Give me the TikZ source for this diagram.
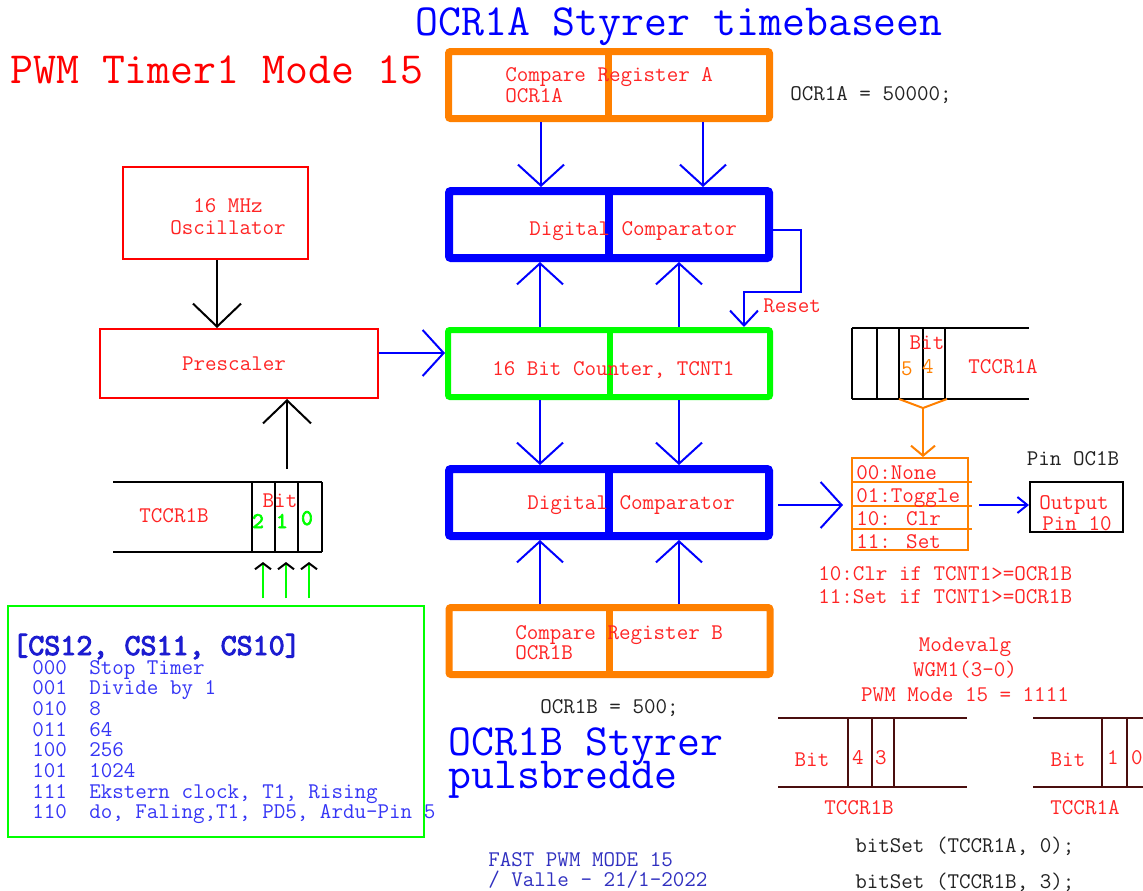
\documentclass[tikz,border=0pt]{standalone}
\usepackage{fontspec}
\newfontfamily\fbmono{lmmono10-regular.otf}[FakeBold=3]
\usetikzlibrary{arrows.meta}
\definecolor{myred}{HTML}{FF2424}
\definecolor{myblue}{HTML}{0000FF}
\definecolor{myorange}{HTML}{FF8000}
\definecolor{mygreen}{HTML}{00FF00}
\definecolor{listblue}{HTML}{3535F5}
\definecolor{csblue}{HTML}{1C1CD0}
\definecolor{footblue}{HTML}{3030C0}
\definecolor{regbrown}{HTML}{4A0E0E}
\definecolor{txtblack}{HTML}{222222}
\newcommand\fsS{\ttfamily\fontsize{16.8pt}{19pt}\selectfont}
\newcommand\fsL{\ttfamily\fontsize{33.4pt}{38pt}\selectfont}
\newcommand\fsB{\fbmono\fontsize{22.9pt}{26pt}\selectfont}
\newcommand\fsD{\fbmono\fontsize{16.8pt}{19pt}\selectfont}
\begin{document}
\begin{tikzpicture}[x=0.75pt,y=-0.75pt,
  txt/.style={inner sep=0pt, font=\fsS, text=myred},
  big/.style={inner sep=0pt, font=\fsL},
  ocrbox/.style={draw=myorange, line width=5.25pt, rounded corners=1.5pt, inner sep=0pt, minimum width=240.75pt, minimum height=50.25pt},
  cmpbox/.style={draw=myblue, line width=6pt, rounded corners=1.5pt, inner sep=0pt, minimum width=240pt, minimum height=50.25pt},
  cntbox/.style={draw=mygreen, line width=4.5pt, rounded corners=1.5pt, inner sep=0pt, minimum width=241.5pt, minimum height=50.25pt},
  thinbox/.style={line width=1.5pt, inner sep=0pt},
  bl/.style={draw=myblue, line width=1.5pt, -{Straight Barb[length=15.75pt,width=34.5pt]}},
  blk/.style={draw=black, line width=1.5pt, -{Straight Barb[length=17.25pt,width=36pt]}},
  reg/.style={line width=1.5pt},
  breg/.style={draw=regbrown, line width=1.8pt},
]
\useasboundingbox (0,0) rectangle (1143,890);

% titles
\node[big, text=myblue, anchor=base west] (t1) at (415,35) {OCR1A Styrer timebaseen};
\node[big, text=red, anchor=base west] (t2) at (10,83) {PWM Timer1 Mode 15};

% central column boxes
\node[ocrbox] (ocrA) at (609,85) {};
\draw[myorange, line width=5.25pt] (608,0 |- ocrA.north) -- (608,0 |- ocrA.south);
\node[txt, anchor=base west] (ocrAt1) at (505,81) {Compare Register A};
\node[txt, anchor=base west] (ocrAt2) at (505,102) {OCR1A};
\node[txt, anchor=base west, text=txtblack] (ocrAv) at (790,100) {OCR1A = 50000;};

\node[cmpbox] (cmpA) at (609,224.5) {};
\draw[myblue, line width=6pt] (609,0 |- cmpA.north) -- (609,0 |- cmpA.south);
\node[txt, anchor=base west] (cmpAt) at (529,235) {Digital Comparator};

\node[cntbox] (cnt) at (609,363.5) {};
\draw[mygreen, line width=4.5pt] (610,330) -- (610,397);
\node[txt, anchor=base west] (cntt) at (492,375) {16 Bit Counter, TCNT1};

\node[cmpbox] (cmpB) at (609,502.5) {};
\draw[myblue, line width=6pt] (609,0 |- cmpB.north) -- (609,0 |- cmpB.south);
\node[txt, anchor=base west] (cmpBt) at (527,509) {Digital Comparator};

\node[ocrbox] (ocrB) at (609.5,641) {};
\draw[myorange, line width=5.25pt] (609,0 |- ocrB.north) -- (609,0 |- ocrB.south);
\node[txt, anchor=base west] (ocrBt1) at (515,639) {Compare Register B};
\node[txt, anchor=base west] (ocrBt2) at (515,659) {OCR1B};
\node[txt, anchor=base west, text=txtblack] (ocrBv) at (540,713) {OCR1B = 500;};

\node[big, text=myblue, anchor=base west] (s1) at (448,755) {OCR1B Styrer};
\node[big, text=myblue, anchor=base west] (s2) at (448,788) {pulsbredde};
\node[txt, text=footblue, anchor=base west] (f1) at (488,866) {FAST PWM MODE 15};
\node[txt, text=footblue, anchor=base west] (f2) at (488,886) {/ Valle - 21/1-2022};

% central arrows
\draw[bl] (541,0 |- ocrA.south) -- (541,0 |- cmpA.north);
\draw[bl] (703,0 |- ocrA.south) -- (703,0 |- cmpA.north);
\draw[bl] (540,0 |- cnt.north) -- (540,0 |- cmpA.south);
\draw[bl] (679,0 |- cnt.north) -- (679,0 |- cmpA.south);
\draw[bl] (540,0 |- cnt.south) -- (540,0 |- cmpB.north);
\draw[bl] (679,0 |- cnt.south) -- (679,0 |- cmpB.north);
\draw[bl] (540,0 |- ocrB.north) -- (540,0 |- cmpB.south);
\draw[bl] (679,0 |- ocrB.north) -- (679,0 |- cmpB.south);

% reset
\draw[draw=myblue, line width=1.5pt, -{Straight Barb[length=11.25pt,width=21pt]}]
  (cmpA.east |- 0,230) -- (801,230) -- (801,292) -- (744,292) -- (744,0 |- cnt.north);
\node[txt, anchor=base west] (reset) at (763,312) {Reset};

% left side
\node[draw=red, thinbox, minimum width=138.75pt, minimum height=69pt] (osc) at (215.5,213) {};
\node[txt, anchor=base] (osct1) at (228,212) {16 MHz};
\node[txt, anchor=base] (osct2) at (228,234) {Oscillator};
\node[draw=red, thinbox, minimum width=208.5pt, minimum height=51.75pt] (pre) at (239,363.5) {};
\node[txt, anchor=base] (pret) at (234,370) {Prescaler};
\draw[blk] (217,0 |- osc.south) -- (217,0 |- pre.north);
\draw[bl] (pre.east |- 0,353) -- (cnt.west |- 0,353);

% TCCR1B left register
\draw[reg] (113,482) -- (322,482);
\draw[reg] (113,552) -- (322,552);
\foreach \xx in {252,275,298,322} \draw[reg] (\xx,482) -- (\xx,552);
\node[txt, anchor=base] (tb1) at (174,522) {TCCR1B};
\node[txt, anchor=base] (tb1bit) at (280,507) {Bit};
\node[txt, anchor=base, text=mygreen, font=\fsD] (tb1d2) at (258,528) {2};
\node[txt, anchor=base, text=mygreen, font=\fsD] (tb1d1) at (282,528) {1};
\node[txt, anchor=base, text=mygreen, font=\fsD] (tb1d0) at (307,525) {0};
\coordinate (tbA) at (287,469);
\draw[blk] (tbA) -- (tbA |- pre.south);

% CS box
\node[draw=mygreen, thinbox, minimum width=312pt, minimum height=173.25pt] (cs) at (216,721.5) {};
\foreach \xx [count=\k] in {263,286,309} {
  \coordinate (g\k) at (\xx,562);
  \draw[draw=mygreen, line width=1.5pt, shorten <=5pt, -{Straight Barb[length=4.5pt,width=12pt,color=black]}] (g\k |- cs.north) -- (g\k);
}
\node[inner sep=0pt, font=\fsB, text=csblue, anchor=base west] (cshead) at (12,655) {[CS12, CS11, CS10]};
\foreach \c/\d [count=\i from 0] in {000/Stop Timer, 001/Divide by 1, 010/8, 011/64, 100/256, 101/1024, 111/{Ekstern clock, T1, Rising}, 110/{do, Faling,T1, PD5, Ardu-Pin 5}} {
  \node[txt, text=listblue, anchor=base west] (csc\i) at (32,{674+20.7*\i}) {\c};
  \node[txt, text=listblue, anchor=base west] (csd\i) at (89,{674+20.7*\i}) {\d};
}

% TCCR1A top right register
\draw[reg] (852,328) -- (1029,328);
\draw[reg] (852,399) -- (1029,399);
\foreach \xx in {852,877,899,923,945} \draw[reg] (\xx,328) -- (\xx,399);
\node[txt, anchor=base] (ta1bit) at (927,349) {Bit};
\node[txt, anchor=base, text=myorange] (ta1d5) at (907,375) {5};
\node[txt, anchor=base, text=myorange] (ta1d4) at (928,373) {4};
\node[txt, anchor=base] (ta1) at (1003,373) {TCCR1A};
\draw[myorange, line width=1.5pt] (899,399) -- (923,408) -- (947,399);
\coordinate (br) at (923,408);

% modes box
\node[draw=myorange, thinbox, minimum width=87pt, minimum height=69pt] (modes) at (910,504) {};
\foreach \yy in {482,506,529} \draw[myorange, line width=1.5pt] (modes.west |- 0,\yy) -- (972,\yy);
\node[txt, anchor=base west] (m0) at (856,479) {00:None};
\node[txt, anchor=base west] (m1) at (856,502) {01:Toggle};
\node[txt, anchor=base west] (m2) at (856,525) {10: Clr};
\node[txt, anchor=base west] (m3) at (856,548) {11: Set};
\draw[draw=myorange, line width=1.5pt, -{Straight Barb[length=7.5pt,width=18pt]}] (br) -- (br |- modes.north);

\draw[bl, shorten <=3.75pt, shorten >=6pt] (cmpB.east |- 0,505) -- (modes.west |- 0,505);

% output
\node[draw=black, thinbox, minimum width=69.75pt, minimum height=37.5pt] (out) at (1076.5,507) {};
\node[txt, anchor=base] (outt1) at (1074,509) {Output};
\node[txt, anchor=base] (outt2) at (1077,530) {Pin 10};
\node[txt, anchor=base, text=txtblack] (pinoc) at (1073,465) {Pin OC1B};
\draw[draw=myblue, line width=1.5pt, shorten <=7.5pt, -{Straight Barb[length=7.5pt,width=12pt]}] (modes.east |- 0,505) -- (out.west |- 0,505);

\node[txt, anchor=base west] (c1) at (818,580) {10:Clr if TCNT1>=OCR1B};
\node[txt, anchor=base west] (c2) at (818,603) {11:Set if TCNT1>=OCR1B};

% mode selection
\node[txt, anchor=base] (mv1) at (965,651) {Modevalg};
\node[txt, anchor=base] (mv2) at (965,676) {WGM1(3-0)};
\node[txt, anchor=base] (mv3) at (965,701) {PWM Mode 15 = 1111};

\draw[breg] (778,718) -- (967,718);
\draw[breg] (778,787) -- (967,787);
\foreach \xx in {848,872,894} \draw[breg] (\xx,718) -- (\xx,787);
\node[txt, anchor=base] (bb1) at (812,766) {Bit};
\node[txt, anchor=base] (bb4) at (858,764) {4};
\node[txt, anchor=base] (bb3) at (881,764) {3};
\node[txt, anchor=base] (bbn) at (859,814) {TCCR1B};

\draw[breg] (1033,718) -- (1143,718);
\draw[breg] (1033,787) -- (1143,787);
\foreach \xx in {1102,1127} \draw[breg] (\xx,718) -- (\xx,787);
\node[txt, anchor=base] (ba1) at (1068,766) {Bit};
\node[txt, anchor=base] (ba1d) at (1113,764) {1};
\node[txt, anchor=base] (ba0d) at (1137,764) {0};
\node[txt, anchor=base] (ban) at (1085,814) {TCCR1A};

\node[txt, anchor=base west, text=txtblack] (bs1) at (855,852) {bitSet (TCCR1A, 0);};
\node[txt, anchor=base west, text=txtblack] (bs2) at (855,888) {bitSet (TCCR1B, 3);};
\end{tikzpicture}
\end{document}
